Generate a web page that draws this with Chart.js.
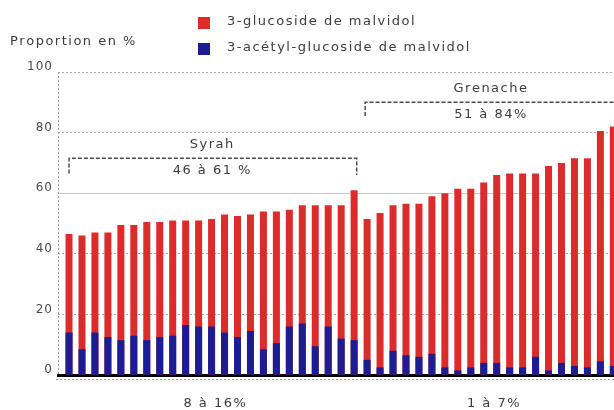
<!DOCTYPE html>
<html>
<head>
<meta charset="utf-8">
<script src="https://cdn.jsdelivr.net/npm/chart.js@4.4.1/dist/chart.umd.min.js"></script>
<style>
  html, body { margin: 0; padding: 0; background: #fff; overflow: hidden; }
  #wrap { width: 626px; height: 410px; }
</style>
</head>
<body>
<div id="wrap"><canvas id="myChart" width="626" height="410"></canvas></div>

<script>
// groups of wines and how many samples each has (bars in order, left to right)
const groups = ["Syrah", "Grenache"];
const groupSizes = [23, 20];
const groupRanges = ["46 à 61 %", "51 à 84%"];
const acetylRanges = ["8 à 16%", "1 à 7%"];

// 3-glucoside de malvidol (%)
const glucoside = [
  46.5, 46, 47, 47, 49.5, 49.5, 50.5, 50.5, 51, 51, 51, 51.5, 53, 52.5, 53, 54, 54, 54.5, 56, 56, 56, 56, 61,
  51.5, 53.5, 56, 56.5, 56.5, 59, 60, 61.5, 61.5, 63.5, 66, 66.5, 66.5, 66.5, 69, 70, 71.5, 71.5, 80.5, 82
];
// 3-acétyl-glucoside de malvidol (%)
const acetyl = [
  14, 8.5, 14, 12.5, 11.5, 13, 11.5, 12.5, 13, 16.5, 16, 16, 14, 12.5, 14.5, 8.5, 10.5, 16, 17, 9.5, 16, 12, 11.5,
  5, 2.5, 8, 6.5, 6, 7, 2.5, 1.5, 2.5, 4, 4, 2.5, 2.5, 6, 1.5, 4, 3, 2.5, 4.5, 3
];
const seriesNames = ["3-glucoside de malvidol", "3-acétyl-glucoside de malvidol"];
const seriesColors = ["#dc2b2b", "#1c1c94"];
const yStep = 20;

const txtFont = "13px 'DejaVu Sans'";
const txtColor = "#3c3c3c";

function groupStart(g) {
  let s = 0;
  for (let i = 0; i < g; i++) s += groupSizes[i];
  return s;
}
function groupCenter(g) {
  return groupStart(g) + (groupSizes[g] - 1) / 2;
}

// spaced-out text, drawn one character at a time
function text(ctx, str, x, y, align, font, color, spacing) {
  const sp = spacing === undefined ? 1.5 : spacing;
  ctx.save();
  ctx.font = font || txtFont;
  ctx.fillStyle = color || txtColor;
  ctx.textAlign = "left";
  ctx.textBaseline = "middle";
  const chars = Array.from(str);
  const widths = chars.map(c => ctx.measureText(c).width);
  const total = widths.reduce((s, w) => s + w, 0) + sp * (chars.length - 1);
  if (align === "right") x -= total;
  else if (align !== "left") x -= total / 2;
  chars.forEach((c, i) => {
    ctx.fillText(c, x, y);
    x += widths[i] + sp;
  });
  ctx.restore();
}

const extras = {
  id: "extras",
  beforeDatasetsDraw(chart) {
    const ctx = chart.ctx, a = chart.chartArea;
    // dotted y axis line
    ctx.save();
    ctx.strokeStyle = "#9a9a9a";
    ctx.lineWidth = 1;
    ctx.setLineDash([2, 2]);
    ctx.beginPath();
    ctx.moveTo(a.left + 0.5, a.top);
    ctx.lineTo(a.left + 0.5, a.bottom);
    ctx.stroke();
    ctx.restore();
  },
  afterDraw(chart) {
    const ctx = chart.ctx, a = chart.chartArea;
    const xs = chart.scales.x, ys = chart.scales.y;

    // y tick labels, sitting a little above their grid lines
    ys.ticks.forEach(t => {
      text(ctx, String(t.value), 52, ys.getPixelForValue(t.value) - 5, "right",
        "12px 'DejaVu Sans'", "#4a4a4a", 1);
    });

    // dotted line under the base line
    ctx.save();
    ctx.strokeStyle = "#9a9a9a";
    ctx.setLineDash([2, 2]);
    ctx.beginPath();
    ctx.moveTo(a.left - 2, a.bottom + 4.5);
    ctx.lineTo(a.right, a.bottom + 4.5);
    ctx.stroke();
    ctx.restore();

    // axis title
    text(ctx, "Proportion en %", 10, 42, "left");

    // legend
    seriesNames.forEach((name, i) => {
      const y = 23 + i * 26;
      ctx.fillStyle = seriesColors[i];
      ctx.fillRect(198, y - 6, 12, 12);
      text(ctx, name, 227, y - 1, "left");
    });

    // brackets with group labels
    ctx.save();
    ctx.strokeStyle = "#4a4a4a";
    ctx.lineWidth = 1.5;
    ctx.setLineDash([4, 2]);
    // Syrah
    let x1 = xs.getPixelForValue(0), x2 = xs.getPixelForValue(22.2);
    let yb = ys.getPixelForValue(71.5);
    ctx.beginPath();
    ctx.moveTo(x1, ys.getPixelForValue(66.5));
    ctx.lineTo(x1, yb);
    ctx.lineTo(x2, yb);
    ctx.lineTo(x2, ys.getPixelForValue(66));
    ctx.stroke();
    // Grenache
    x1 = xs.getPixelForValue(22.85);
    yb = ys.getPixelForValue(90);
    ctx.beginPath();
    ctx.moveTo(x1, ys.getPixelForValue(85.5));
    ctx.lineTo(x1, yb);
    ctx.lineTo(a.right, yb);
    ctx.stroke();
    ctx.restore();

    const labelTop = [76, 94.5];
    const labelBottom = [67.5, 85.8];
    groups.forEach((g, i) => {
      const cx = xs.getPixelForValue(groupCenter(i));
      text(ctx, g, cx, ys.getPixelForValue(labelTop[i]));
      text(ctx, groupRanges[i], cx, ys.getPixelForValue(labelBottom[i]));
      text(ctx, acetylRanges[i], cx + 3, 404);
    });
  }
};

const idx = glucoside.map((v, i) => i);

const myChart = new Chart("myChart", {
  type: "bar",
  data: {
    datasets: [
      {
        label: seriesNames[0],
        data: idx.map(i => ({ x: i, y: glucoside[i] })),
        backgroundColor: seriesColors[0],
        order: 2
      },
      {
        label: seriesNames[1],
        data: idx.map(i => ({ x: i, y: acetyl[i] })),
        backgroundColor: seriesColors[1],
        order: 1
      }
    ]
  },
  options: {
    responsive: false,
    animation: false,
    barPercentage: 0.54,
    categoryPercentage: 1,
    layout: { padding: { top: 72, bottom: 35, left: 0, right: 1 } },
    plugins: { legend: { display: false }, tooltip: { enabled: false } },
    scales: {
      x: {
        type: "linear",
        stacked: true,
        offset: false,
        min: -0.85,
        max: 42.9,
        ticks: { display: false },
        grid: { display: false },
        border: { display: true, color: "#000", width: 3 },
        afterFit(s) { s.height = 0; }
      },
      y: {
        stacked: false,
        min: 0,
        max: 100,
        ticks: { stepSize: yStep, display: false },
        grid: {
          drawTicks: false,
          color: (c) => c.tick && c.tick.value === 60 ? "#c8c8c8" : "#a8a8a8",
          lineWidth: 1
        },
        border: {
          display: false,
          dash: (c) => c.tick && c.tick.value === 60 ? [] : [2, 2]
        },
        afterFit(s) { s.width = 58; }
      }
    }
  },
  plugins: [extras]
});
</script>
</body>
</html>
